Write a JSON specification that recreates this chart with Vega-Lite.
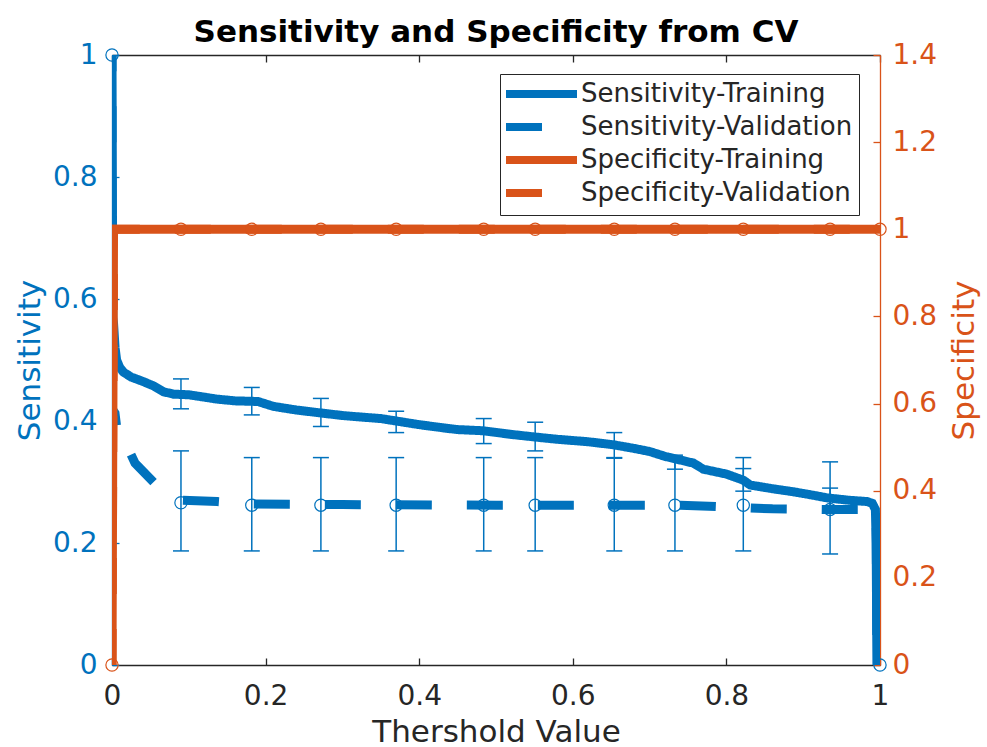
{
  "$schema": "https://vega.github.io/schema/vega-lite/v6.json",
  "width": 768,
  "height": 610,
  "autosize": {"type": "none"},
  "padding": {"left": 112, "top": 55, "right": 107, "bottom": 82},
  "background": "white",
  "title": {
    "text": "Sensitivity and Specificity from CV",
    "font": "DejaVu Sans",
    "fontSize": 31,
    "fontWeight": "bold",
    "color": "#000000",
    "anchor": "middle",
    "offset": -8
  },
  "config": {
    "font": "DejaVu Sans",
    "view": {"stroke": null},
    "axis": {
      "labelFont": "DejaVu Sans",
      "titleFont": "DejaVu Sans",
      "labelFontSize": 28,
      "titleFontSize": 31,
      "titleFontWeight": "normal",
      "grid": false,
      "tickSize": -7,
      "tickWidth": 1.3,
      "domainWidth": 1.3,
      "labelOverlap": false,
      "labelFlush": false
    },
    "legend": {
      "orient": "none",
      "legendX": 388,
      "legendY": 19,
      "title": null,
      "strokeColor": "#262626",
      "fillColor": "white",
      "padding": 6,
      "rowPadding": 1,
      "symbolType": "M-1,0H6.1",
      "symbolSize": 400,
      "symbolOffset": -4,
      "symbolStrokeWidth": 8,
      "labelFont": "DejaVu Sans",
      "labelFontSize": 26,
      "labelColor": "#262626",
      "labelOffset": 51,
      "labelLimit": 400
    }
  },
  "datasets": {
    "sens": [
      {"t": 0, "v": 1, "series": "Sensitivity-Training"},
      {"t": 0.001, "v": 0.57, "series": "Sensitivity-Training"},
      {"t": 0.002, "v": 0.56, "series": "Sensitivity-Training"},
      {"t": 0.004, "v": 0.52, "series": "Sensitivity-Training"},
      {"t": 0.006, "v": 0.5, "series": "Sensitivity-Training"},
      {"t": 0.01, "v": 0.488, "series": "Sensitivity-Training"},
      {"t": 0.015, "v": 0.48, "series": "Sensitivity-Training"},
      {"t": 0.025, "v": 0.472, "series": "Sensitivity-Training"},
      {"t": 0.04, "v": 0.465, "series": "Sensitivity-Training"},
      {"t": 0.055, "v": 0.457, "series": "Sensitivity-Training"},
      {"t": 0.067, "v": 0.448, "series": "Sensitivity-Training"},
      {"t": 0.08, "v": 0.444, "series": "Sensitivity-Training"},
      {"t": 0.1, "v": 0.443, "series": "Sensitivity-Training"},
      {"t": 0.136, "v": 0.436, "series": "Sensitivity-Training"},
      {"t": 0.16, "v": 0.433, "series": "Sensitivity-Training"},
      {"t": 0.19, "v": 0.432, "series": "Sensitivity-Training"},
      {"t": 0.21, "v": 0.424, "series": "Sensitivity-Training"},
      {"t": 0.24, "v": 0.418, "series": "Sensitivity-Training"},
      {"t": 0.273, "v": 0.413, "series": "Sensitivity-Training"},
      {"t": 0.3, "v": 0.409, "series": "Sensitivity-Training"},
      {"t": 0.319, "v": 0.407, "series": "Sensitivity-Training"},
      {"t": 0.35, "v": 0.404, "series": "Sensitivity-Training"},
      {"t": 0.37, "v": 0.4, "series": "Sensitivity-Training"},
      {"t": 0.4, "v": 0.394, "series": "Sensitivity-Training"},
      {"t": 0.43, "v": 0.389, "series": "Sensitivity-Training"},
      {"t": 0.449, "v": 0.386, "series": "Sensitivity-Training"},
      {"t": 0.483, "v": 0.384, "series": "Sensitivity-Training"},
      {"t": 0.52, "v": 0.378, "series": "Sensitivity-Training"},
      {"t": 0.549, "v": 0.374, "series": "Sensitivity-Training"},
      {"t": 0.58, "v": 0.37, "series": "Sensitivity-Training"},
      {"t": 0.62, "v": 0.366, "series": "Sensitivity-Training"},
      {"t": 0.653, "v": 0.361, "series": "Sensitivity-Training"},
      {"t": 0.68, "v": 0.355, "series": "Sensitivity-Training"},
      {"t": 0.7, "v": 0.35, "series": "Sensitivity-Training"},
      {"t": 0.72, "v": 0.342, "series": "Sensitivity-Training"},
      {"t": 0.74, "v": 0.336, "series": "Sensitivity-Training"},
      {"t": 0.757, "v": 0.331, "series": "Sensitivity-Training"},
      {"t": 0.77, "v": 0.321, "series": "Sensitivity-Training"},
      {"t": 0.8, "v": 0.313, "series": "Sensitivity-Training"},
      {"t": 0.822, "v": 0.303, "series": "Sensitivity-Training"},
      {"t": 0.831, "v": 0.295, "series": "Sensitivity-Training"},
      {"t": 0.86, "v": 0.289, "series": "Sensitivity-Training"},
      {"t": 0.887, "v": 0.284, "series": "Sensitivity-Training"},
      {"t": 0.91, "v": 0.279, "series": "Sensitivity-Training"},
      {"t": 0.931, "v": 0.274, "series": "Sensitivity-Training"},
      {"t": 0.96, "v": 0.27, "series": "Sensitivity-Training"},
      {"t": 0.983, "v": 0.268, "series": "Sensitivity-Training"},
      {"t": 0.99, "v": 0.265, "series": "Sensitivity-Training"},
      {"t": 0.994, "v": 0.255, "series": "Sensitivity-Training"},
      {"t": 0.995, "v": 0.2, "series": "Sensitivity-Training"},
      {"t": 0.996, "v": 0, "series": "Sensitivity-Training"},
      {"t": 0, "v": 1, "series": "Sensitivity-Validation"},
      {"t": 0, "v": 0.42, "series": "Sensitivity-Validation"},
      {"t": 0.0039, "v": 0.413, "series": "Sensitivity-Validation"},
      {"t": 0.0078, "v": 0.372, "series": "Sensitivity-Validation"},
      {"t": 0.0169, "v": 0.366, "series": "Sensitivity-Validation"},
      {"t": 0.03, "v": 0.331, "series": "Sensitivity-Validation"},
      {"t": 0.06, "v": 0.292, "series": "Sensitivity-Validation"},
      {"t": 0.09, "v": 0.27, "series": "Sensitivity-Validation"},
      {"t": 0.137, "v": 0.268, "series": "Sensitivity-Validation"},
      {"t": 0.18, "v": 0.264, "series": "Sensitivity-Validation"},
      {"t": 0.3, "v": 0.263, "series": "Sensitivity-Validation"},
      {"t": 0.5, "v": 0.262, "series": "Sensitivity-Validation"},
      {"t": 0.74, "v": 0.262, "series": "Sensitivity-Validation"},
      {"t": 0.8, "v": 0.259, "series": "Sensitivity-Validation"},
      {"t": 0.86, "v": 0.256, "series": "Sensitivity-Validation"},
      {"t": 0.93, "v": 0.255, "series": "Sensitivity-Validation"},
      {"t": 0.99, "v": 0.255, "series": "Sensitivity-Validation"},
      {"t": 0.995, "v": 0.25, "series": "Sensitivity-Validation"},
      {"t": 0.996, "v": 0, "series": "Sensitivity-Validation"}
    ],
    "spec": [
      {"t": 0, "v": 0, "series": "Specificity-Training"},
      {"t": 0.002, "v": 1, "series": "Specificity-Training"},
      {"t": 1, "v": 1, "series": "Specificity-Training"},
      {"t": 0, "v": 0, "series": "Specificity-Validation"},
      {"t": 0.002, "v": 1, "series": "Specificity-Validation"},
      {"t": 1, "v": 1, "series": "Specificity-Validation"}
    ],
    "sensErr": [
      {"t": 0.0898, "lo": 0.187, "hi": 0.351},
      {"t": 0.182, "lo": 0.187, "hi": 0.34},
      {"t": 0.272, "lo": 0.187, "hi": 0.34},
      {"t": 0.37, "lo": 0.187, "hi": 0.34},
      {"t": 0.484, "lo": 0.187, "hi": 0.34},
      {"t": 0.551, "lo": 0.187, "hi": 0.34},
      {"t": 0.654, "lo": 0.187, "hi": 0.34},
      {"t": 0.733, "lo": 0.187, "hi": 0.34},
      {"t": 0.822, "lo": 0.187, "hi": 0.34},
      {"t": 0.935, "lo": 0.182, "hi": 0.333},
      {"t": 0.0898, "lo": 0.42, "hi": 0.469},
      {"t": 0.182, "lo": 0.41, "hi": 0.455},
      {"t": 0.272, "lo": 0.391, "hi": 0.437},
      {"t": 0.37, "lo": 0.381, "hi": 0.416},
      {"t": 0.484, "lo": 0.363, "hi": 0.404},
      {"t": 0.551, "lo": 0.351, "hi": 0.398},
      {"t": 0.654, "lo": 0.339, "hi": 0.381},
      {"t": 0.733, "lo": 0.321, "hi": 0.344},
      {"t": 0.822, "lo": 0.285, "hi": 0.322},
      {"t": 0.935, "lo": 0.255, "hi": 0.29}
    ],
    "sensMarkers": [
      {"t": 0, "v": 1},
      {"t": 0.0898, "v": 0.266},
      {"t": 0.182, "v": 0.262},
      {"t": 0.272, "v": 0.262},
      {"t": 0.37, "v": 0.262},
      {"t": 0.484, "v": 0.262},
      {"t": 0.551, "v": 0.262},
      {"t": 0.654, "v": 0.262},
      {"t": 0.733, "v": 0.262},
      {"t": 0.822, "v": 0.262},
      {"t": 0.935, "v": 0.255},
      {"t": 1, "v": 0}
    ],
    "specMarkers": [
      {"t": 0, "v": 0},
      {"t": 0.0898, "v": 1},
      {"t": 0.182, "v": 1},
      {"t": 0.272, "v": 1},
      {"t": 0.37, "v": 1},
      {"t": 0.484, "v": 1},
      {"t": 0.551, "v": 1},
      {"t": 0.654, "v": 1},
      {"t": 0.733, "v": 1},
      {"t": 0.822, "v": 1},
      {"t": 0.935, "v": 1},
      {"t": 1, "v": 1}
    ]
  },
  "layer": [
    {
      "layer": [
        {
          "data": {"name": "sens"},
          "mark": {"type": "line", "strokeWidth": 9, "clip": true, "strokeDashOffset": 19.7, "strokeCap": "butt"},
          "encoding": {
            "x": {
              "field": "t", "type": "quantitative",
              "scale": {"domain": [0, 1], "nice": false, "zero": false},
              "axis": {
                "orient": "bottom", "title": "Thershold Value",
                "values": [0, 0.2, 0.4, 0.6, 0.8, 1], "format": "~g",
                "labelColor": "#262626", "titleColor": "#262626",
                "domainColor": "#262626", "tickColor": "#262626",
                "labelPadding": 24, "titlePadding": 7
              }
            },
            "y": {
              "field": "v", "type": "quantitative",
              "scale": {"domain": [0, 1], "nice": false, "zero": false},
              "axis": {
                "orient": "left", "title": "Sensitivity",
                "values": [0, 0.2, 0.4, 0.6, 0.8, 1], "format": "~g",
                "labelColor": "#0072BD", "titleColor": "#0072BD",
                "domainColor": "#0072BD", "tickColor": "#0072BD",
                "labelPadding": 22, "titlePadding": 6
              }
            },
            "color": {
              "field": "series", "type": "nominal",
              "scale": {
                "domain": ["Sensitivity-Training", "Sensitivity-Validation", "Specificity-Training", "Specificity-Validation"],
                "range": ["#0072BD", "#0072BD", "#D95319", "#D95319"]
              }
            },
            "strokeDash": {
              "field": "series", "type": "nominal",
              "scale": {
                "domain": ["Sensitivity-Training", "Sensitivity-Validation", "Specificity-Training", "Specificity-Validation"],
                "range": [[1, 0], [36, 35], [1, 0], [36, 35]]
              }
            }
          }
        },
        {
          "data": {"name": "sensErr"},
          "mark": {"type": "rule", "color": "#0072BD", "strokeWidth": 1.5},
          "encoding": {
            "x": {"field": "t", "type": "quantitative"},
            "y": {"field": "lo", "type": "quantitative"},
            "y2": {"field": "hi"}
          }
        },
        {
          "data": {"name": "sensErr"},
          "mark": {"type": "rule", "color": "#0072BD", "strokeWidth": 1.5, "xOffset": -8, "x2Offset": 8},
          "encoding": {
            "x": {"field": "t", "type": "quantitative"},
            "x2": {"field": "t"},
            "y": {"field": "lo", "type": "quantitative"}
          }
        },
        {
          "data": {"name": "sensErr"},
          "mark": {"type": "rule", "color": "#0072BD", "strokeWidth": 1.5, "xOffset": -8, "x2Offset": 8},
          "encoding": {
            "x": {"field": "t", "type": "quantitative"},
            "x2": {"field": "t"},
            "y": {"field": "hi", "type": "quantitative"}
          }
        },
        {
          "data": {"name": "sensMarkers"},
          "mark": {"type": "point", "shape": "circle", "filled": false, "size": 150, "strokeWidth": 1.2, "color": "#0072BD", "opacity": 1},
          "encoding": {
            "x": {"field": "t", "type": "quantitative"},
            "y": {"field": "v", "type": "quantitative"}
          }
        }
      ]
    },
    {
      "layer": [
        {
          "data": {"name": "spec"},
          "mark": {"type": "line", "strokeWidth": 9, "clip": true, "strokeCap": "butt"},
          "encoding": {
            "x": {
              "field": "t", "type": "quantitative",
              "scale": {"domain": [0, 1], "nice": false, "zero": false},
              "axis": {
                "orient": "top", "title": null, "labels": false,
                "values": [0, 0.2, 0.4, 0.6, 0.8, 1],
                "domainColor": "#262626", "tickColor": "#262626"
              }
            },
            "y": {
              "field": "v", "type": "quantitative",
              "scale": {"domain": [0, 1.4], "nice": false, "zero": false},
              "axis": {
                "orient": "right", "title": "Specificity", "titleAngle": 270,
                "values": [0, 0.2, 0.4, 0.6, 0.8, 1, 1.2, 1.4], "format": "~g",
                "labelColor": "#D95319", "titleColor": "#D95319",
                "domainColor": "#D95319", "tickColor": "#D95319",
                "labelPadding": 19, "titlePadding": 44
              }
            },
            "color": {"field": "series", "type": "nominal"},
            "strokeDash": {"field": "series", "type": "nominal"}
          }
        },
        {
          "data": {"name": "specMarkers"},
          "mark": {"type": "point", "shape": "circle", "filled": false, "size": 150, "strokeWidth": 1.2, "color": "#D95319", "opacity": 1},
          "encoding": {
            "x": {"field": "t", "type": "quantitative"},
            "y": {"field": "v", "type": "quantitative"}
          }
        }
      ]
    }
  ],
  "resolve": {"scale": {"y": "independent"}, "axis": {"x": "independent", "y": "independent"}}
}
